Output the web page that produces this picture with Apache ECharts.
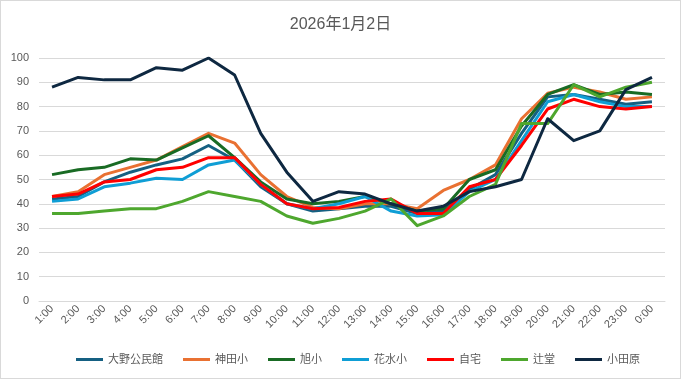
<!DOCTYPE html>
<html><head><meta charset="utf-8">
<script src="https://cdn.jsdelivr.net/npm/echarts@6/dist/echarts.min.js"></script>
<style>html,body{margin:0;padding:0;background:#fff}#c{width:681px;height:379px;box-sizing:border-box;border:1px solid #d9d9d9}</style>
</head><body><div id="c"></div>
<script>
const categories = ['1:00','2:00','3:00','4:00','5:00','6:00','7:00','8:00','9:00','10:00','11:00','12:00','13:00','14:00','15:00','16:00','17:00','18:00','19:00','20:00','21:00','22:00','23:00','0:00'];
const ono      = [42,43,49,53,56,58.5,64,58,47,40,37,38,39,39,36,37,46,52,69,84,85,83,81,82];
const kanda    = [43,45,52,55,58,63.5,69,65,52,43,38.5,38,40,40,38,45.5,50,56,75,85.5,88,86,83,84];
const asahi    = [52,54,55,58.5,58,63,68,59,49,42,40,41,43,40,37,38,50,54,72,85,89,85,86,85];
const hanamizu = [41,42,47,48.5,50.5,50,56,58,48,40,38,40,43,37,35,35.5,45,50,66,82,85,82,80,80];
const jitaku   = [43,44,49,50,54,55,59,59,48,40,38,38.5,41,42,36,36,47,50,64,79,83,80,79,80];
const tsujido  = [36,36,37,38,38,41,45,43,41,35,32,34,37,42,31,35,43,48,73,73,89,84,88,90];
const odawara  = [88,92,91,91,96,95,100,93,69,53,41,45,44,40,37,39,45,47,50,75,66,70,87,92];
const yTicks = [0,10,20,30,40,50,60,70,80,90,100];

const names = ['大野公民館','神田小','旭小','花水小','自宅','辻堂','小田原'];
const colors = ['#156082','#E97132','#196B24','#0F9ED5','#FF0000','#4EA72E','#0E2841'];
const datas = [ono,kanda,asahi,hanamizu,jitaku,tsujido,odawara];
const font = "'Liberation Sans','Noto Sans CJK JP',sans-serif";

const chart = echarts.init(document.getElementById('c'));
chart.setOption({
  animation:false,
  title:{text:'2026年1月2日',left:'center',top:11,textStyle:{color:'#595959',fontSize:16,fontWeight:'normal',fontFamily:font}},
  grid:{left:38,right:15,top:57,bottom:77},
  legend:{bottom:8,left:70,itemWidth:27,itemHeight:3,itemGap:20,icon:'rect',
    textStyle:{color:'#595959',fontSize:11,fontFamily:font},data:names},
  xAxis:{type:'category',data:categories,boundaryGap:true,
    axisLine:{lineStyle:{color:'#d9d9d9'}},axisTick:{show:false},
    axisLabel:{rotate:45,color:'#595959',fontSize:11,fontFamily:font,margin:6,interval:0}},
  yAxis:{type:'value',min:yTicks[0],max:yTicks[yTicks.length-1],interval:10,
    axisLine:{show:false},axisTick:{show:false},
    splitLine:{lineStyle:{color:'#d9d9d9'}},
    axisLabel:{color:'#595959',fontSize:11,fontFamily:font,margin:10}},
  series:names.map((n,i)=>({name:n,type:'line',data:datas[i],showSymbol:false,symbol:'none',
    lineStyle:{width:3,color:colors[i],join:'round'},itemStyle:{color:colors[i]}}))
});
</script></body></html>
